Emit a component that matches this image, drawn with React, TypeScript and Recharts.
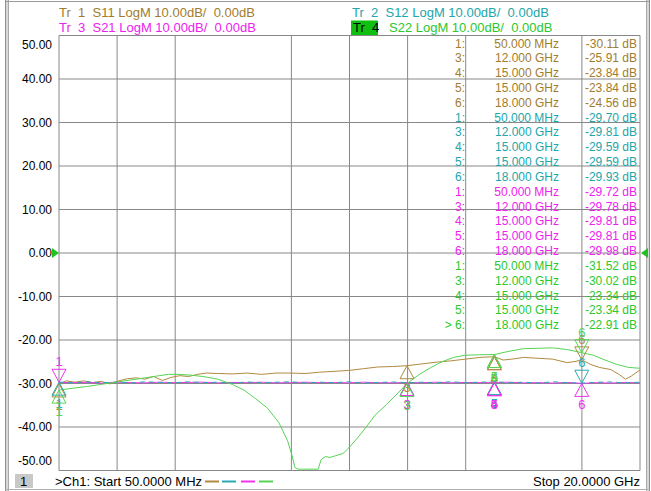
import React from 'react';
import { LineChart, Line, XAxis, YAxis, CartesianGrid, ReferenceDot } from 'recharts';

const FONT = '"Liberation Sans", Arial, sans-serif';

// ---- data ----
const traceNames = ['S11', 'S12', 'S21', 'S22'];
const textColors = ['#A27C2C', '#22A6AA', '#EE22EE', '#2CC82C'];
const lineColors = ['#B08A40', '#2AAAB2', '#F033F0', '#55D455'];

const s11Trace: [number, number][] = [
  [0.05, -30.11], [0.3, -29.4], [0.6, -29.7], [0.9, -29.4], [1.2, -29.8], [1.5, -29.5], [1.8, -30.1], [2.1, -29.4],
  [2.4, -28.9], [2.7, -28.7], [3.0, -29.0], [3.3, -28.4], [3.6, -29.3], [3.9, -28.6], [4.2, -28.2], [4.5, -28.4],
  [4.8, -27.9], [5.1, -27.6], [5.5, -27.7], [6.0, -27.8], [6.5, -27.6], [7.0, -27.9], [7.5, -27.6], [8.0, -27.6],
  [8.5, -27.7], [9.0, -27.4], [9.5, -27.2], [10.0, -27.0], [10.5, -26.6], [11.0, -26.2], [11.5, -26.1], [12.0, -25.91],
  [12.5, -25.5], [13.0, -25.1], [13.5, -24.8], [14.0, -24.4], [14.5, -24.0], [15.0, -23.84], [15.3, -24.6], [15.6, -24.4],
  [16.0, -24.0], [16.5, -24.2], [17.0, -24.4], [17.5, -25.2], [17.8, -24.9], [18.0, -24.56], [18.3, -25.6], [18.6, -26.3],
  [19.0, -26.8], [19.3, -28.0], [19.5, -29.0], [19.7, -28.3], [20.0, -26.9],
];

const s12Trace: [number, number][] = [
  [0.05, -29.7], [0.5, -29.85], [1.0, -29.6], [1.5, -29.8], [2.0, -29.7], [2.5, -29.9], [3.0, -29.6], [3.5, -29.75],
  [4.0, -29.85], [4.5, -29.6], [5.0, -29.8], [5.5, -29.7], [6.0, -29.9], [6.5, -29.65], [7.0, -29.8], [7.5, -29.7],
  [8.0, -29.6], [8.5, -29.85], [9.0, -29.7], [9.5, -29.8], [10.0, -29.6], [10.5, -29.9], [11.0, -29.75], [11.5, -29.65],
  [12.0, -29.81], [12.5, -29.7], [13.0, -29.85], [13.5, -29.6], [14.0, -29.8], [14.5, -29.7], [15.0, -29.59], [15.5, -29.8],
  [16.0, -29.7], [16.5, -29.9], [17.0, -29.6], [17.5, -29.8], [18.0, -29.93], [18.5, -29.7], [19.0, -29.65], [19.5, -29.85],
  [20.0, -29.7],
];

const s21Trace: [number, number][] = [
  [0.05, -29.72], [0.5, -29.8], [1.0, -29.75], [1.5, -29.9], [2.0, -29.7], [2.5, -29.8], [3.0, -29.85], [3.5, -29.7],
  [4.0, -29.8], [4.5, -29.75], [5.0, -29.7], [5.5, -29.85], [6.0, -29.75], [6.5, -29.8], [7.0, -29.7], [7.5, -29.85],
  [8.0, -29.8], [8.5, -29.7], [9.0, -29.8], [9.5, -29.75], [10.0, -29.85], [10.5, -29.7], [11.0, -29.8], [11.5, -29.85],
  [12.0, -29.78], [12.5, -29.8], [13.0, -29.7], [13.5, -29.85], [14.0, -29.75], [14.5, -29.8], [15.0, -29.81], [15.5, -29.7],
  [16.0, -29.85], [16.5, -29.8], [17.0, -29.9], [17.5, -29.75], [18.0, -29.98], [18.5, -29.8], [19.0, -29.9], [19.5, -29.75],
  [20.0, -29.85],
];

// S22 is pinned at the bottom of the display near 8.2–9.0 GHz
const s22Trace: [number, number][] = [
  [0.05, -31.52], [0.5, -31.1], [1.0, -30.7], [1.5, -30.2], [2.0, -29.7], [2.5, -29.2], [3.0, -28.7], [3.4, -28.3],
  [3.8, -27.9], [4.2, -27.9], [4.6, -28.1], [5.0, -28.4], [5.5, -29.0], [6.0, -30.2], [6.4, -31.5], [6.8, -33.5],
  [7.2, -35.6], [7.6, -39.0], [7.9, -43.2], [8.05, -46.5], [8.15, -49.3], [8.25, -49.7], [8.95, -49.7], [9.05, -47.5],
  [9.2, -46.8], [9.35, -47.0], [9.55, -46.6], [9.8, -46.1], [10.0, -44.8], [10.3, -42.5], [10.6, -40.0], [10.9, -37.3],
  [11.3, -34.8], [11.6, -32.8], [12.0, -30.02], [12.4, -28.0], [12.8, -26.4], [13.2, -25.0], [13.6, -24.0], [14.0, -23.5],
  [14.5, -23.4], [15.0, -23.34], [15.5, -22.6], [16.0, -22.0], [16.5, -21.9], [17.0, -21.8], [17.5, -22.2], [18.0, -22.91],
  [18.4, -23.5], [18.8, -24.6], [19.2, -25.6], [19.6, -26.3], [20.0, -26.5],
];

const traces = [s11Trace, s12Trace, s21Trace, s22Trace];
// drawing order: S11, S21, S12 (dashed over S21), S22
const drawOrder = [0, 2, 1, 3];

const markerNumbers = ['1', '3', '4', '5', '6'];
const markerFreqs = [0.05, 12, 15, 15, 18];
const markerValues = [
  [-30.11, -25.91, -23.84, -23.84, -24.56],
  [-29.7, -29.81, -29.59, -29.59, -29.93],
  [-29.72, -29.78, -29.81, -29.81, -29.98],
  [-31.52, -30.02, -23.34, -23.34, -22.91],
];
const markerDirs = [
  ['up', 'up', 'up', 'up', 'down'],
  ['up', 'up', 'up', 'up', 'down'],
  ['down', 'up', 'up', 'up', 'up'],
  ['up', 'up', 'up', 'up', 'down'],
];
const activeTrace = 3;
const activeMarker = 4;

const yTicks = [50, 40, 30, 20, 10, 0, -10, -20, -30, -40, -50];
const startGHz = 0.05;
const stopGHz = 20;
const xTicks = Array.from({ length: 11 }, (_, i) => startGHz + (i * (stopGHz - startGHz)) / 10);

const fmtFreq = (f: number) => (f < 1 ? `${(f * 1000).toFixed(3)} MHz` : `${f.toFixed(3)} GHz`);

const W = 651;
const H = 491;

const YTick = (props: any) => {
  const { x, y, payload } = props;
  const v = payload.value as number;
  const dy = v === 50 ? 9 : v === -50 ? -9.5 : 0;
  return (
    <text x={x} y={y + dy} dy="0.35em" textAnchor="end" fontSize={12} fill="#000" fontFamily={FONT}>
      {v.toFixed(2)}
    </text>
  );
};

const makeMarkerShape = (color: string, dir: string, label: string) => (p: any) => {
  const { cx, cy } = p;
  if (cx == null || cy == null) return <g />;
  if (dir === 'down') {
    return (
      <g>
        <polygon points={`${cx - 7},${cy - 13} ${cx + 7},${cy - 13} ${cx},${cy}`} fill="none" stroke={color} strokeWidth={1} />
        <text x={cx} y={cy - 16} textAnchor="middle" fontSize={13} fill={color} fontFamily={FONT}>{label}</text>
      </g>
    );
  }
  return (
    <g>
      <polygon points={`${cx},${cy} ${cx - 7},${cy + 13} ${cx + 7},${cy + 13}`} fill="none" stroke={color} strokeWidth={1} />
      <text x={cx} y={cy + 26} textAnchor="middle" fontSize={13} fill={color} fontFamily={FONT}>{label}</text>
    </g>
  );
};

const refLeftShape = (p: any) => {
  const { cx, cy } = p;
  return <polygon points={`${cx - 7},${cy - 5} ${cx},${cy} ${cx - 7},${cy + 5}`} fill="#22C022" />;
};
const refRightShape = (p: any) => {
  const { cx, cy } = p;
  return <polygon points={`${cx + 8},${cy - 5} ${cx + 1},${cy} ${cx + 8},${cy + 5}`} fill="#22C022" />;
};

export default function App() {
  const data = traces.map((t) => t.map(([f, v]) => ({ f, v })));

  const rows: { color: string; n: string; f: string; v: string }[] = [];
  traceNames.forEach((_, ti) => {
    markerNumbers.forEach((m, mi) => {
      rows.push({
        color: textColors[ti],
        n: ti === activeTrace && mi === activeMarker ? `> ${m}:` : `${m}:`,
        f: fmtFreq(markerFreqs[mi]),
        v: `${markerValues[ti][mi].toFixed(2)} dB`,
      });
    });
  });

  const headerSize = 13;

  return (
    <div style={{ position: 'absolute', left: 0, top: 0, width: W, height: H, background: '#fff' }}>
      {/* window frame (behind the chart) */}
      <svg width={W} height={H} style={{ position: 'absolute', left: 0, top: 0 }}>
        <rect x={5} y={0} width={3} height={H} fill="#d8d8d8" />
        <line x1={5.5} y1={0} x2={5.5} y2={H} stroke="#8c8c8c" />
        <line x1={8.5} y1={0} x2={8.5} y2={H} stroke="#a8a8a8" />
        <rect x={646} y={0} width={3} height={H} fill="#d8d8d8" />
        <line x1={646.5} y1={0} x2={646.5} y2={H} stroke="#a8a8a8" />
        <line x1={649.5} y1={0} x2={649.5} y2={H} stroke="#8c8c8c" />
        <line x1={5} y1={1.5} x2={650} y2={1.5} stroke="#9a9a9a" />
        <line x1={5} y1={489.5} x2={650} y2={489.5} stroke="#b0b0b0" />
      </svg>

      <LineChart width={W} height={H} margin={{ top: 35.5, right: 11, bottom: 20.5, left: 0 }}>
        <CartesianGrid stroke="#888888" strokeWidth={1} />
        <XAxis type="number" dataKey="f" domain={[startGHz, stopGHz]} ticks={xTicks} hide allowDataOverflow />
        <YAxis
          type="number"
          domain={[-50, 50]}
          ticks={yTicks}
          allowDataOverflow
          width={59}
          axisLine={false}
          tickLine={false}
          tickSize={0}
          tickMargin={7}
          tick={YTick}
          interval={0}
        />
        {drawOrder.map((i) => (
          <Line
            key={traceNames[i]}
            data={data[i]}
            dataKey="v"
            type="linear"
            stroke={lineColors[i]}
            strokeWidth={1}
            strokeDasharray={i === 1 ? '5 4' : undefined}
            dot={false}
            isAnimationActive={false}
          />
        ))}
        {traceNames.map((_, ti) =>
          markerFreqs.map((f, mi) => (
            <ReferenceDot
              key={`m-${ti}-${mi}`}
              x={f}
              y={markerValues[ti][mi]}
              ifOverflow="visible"
              shape={makeMarkerShape(lineColors[ti], markerDirs[ti][mi], markerNumbers[mi])}
            />
          ))
        )}
        <ReferenceDot x={startGHz} y={0} ifOverflow="visible" shape={refLeftShape} />
        <ReferenceDot x={stopGHz} y={0} ifOverflow="visible" shape={refRightShape} />
      </LineChart>

      <svg width={W} height={H} style={{ position: 'absolute', left: 0, top: 0, pointerEvents: 'none' }}>
        {/* header */}
        <g fontFamily={FONT} fontSize={headerSize}>
          <text x={59} y={17} fill={textColors[0]} xmlSpace="preserve">{'Tr  1  S11 LogM 10.00dB/  0.00dB'}</text>
          <text x={352} y={17} fill={textColors[1]} xmlSpace="preserve">{'Tr  2  S12 LogM 10.00dB/  0.00dB'}</text>
          <text x={59} y={32} fill={textColors[2]} xmlSpace="preserve">{'Tr  3  S21 LogM 10.00dB/  0.00dB'}</text>
          <rect x={351} y={20.5} width={27} height={14.5} fill="#10C010" />
          <text x={353} y={32} fill="#000" xmlSpace="preserve">{'Tr  4'}</text>
          <text x={389} y={32} fill={textColors[3]} xmlSpace="preserve">{'S22 LogM 10.00dB/  0.00dB'}</text>
        </g>

        {/* marker table */}
        <g fontFamily={FONT} fontSize={12}>
          {rows.map((r, i) => {
            const y = 47.5 + i * 14.83;
            return (
              <g key={i} fill={r.color}>
                <text x={465} y={y} textAnchor="end">{r.n}</text>
                <text x={559} y={y} textAnchor="end">{r.f}</text>
                <text x={637} y={y} textAnchor="end">{r.v}</text>
              </g>
            );
          })}
        </g>

        {/* footer */}
        <rect x={15} y={474} width={18} height={14} fill="#c8c8c8" />
        <g fontFamily={FONT} fontSize={13}>
          <text x={20} y={486} fill="#000">1</text>
          <text x={55} y={486} fill="#000">{'>Ch1: Start 50.0000 MHz'}</text>
          <text x={640} y={486} fill="#000" textAnchor="end">Stop 20.0000 GHz</text>
        </g>
        <line x1={205} y1={481.5} x2={219} y2={481.5} stroke={lineColors[0]} strokeWidth={2} />
        <line x1={222} y1={481.5} x2={236} y2={481.5} stroke={lineColors[1]} strokeWidth={2} />
        <line x1={241} y1={481.5} x2={255} y2={481.5} stroke={lineColors[2]} strokeWidth={2} />
        <line x1={259} y1={481.5} x2={273} y2={481.5} stroke={lineColors[3]} strokeWidth={2} />
      </svg>
    </div>
  );
}
